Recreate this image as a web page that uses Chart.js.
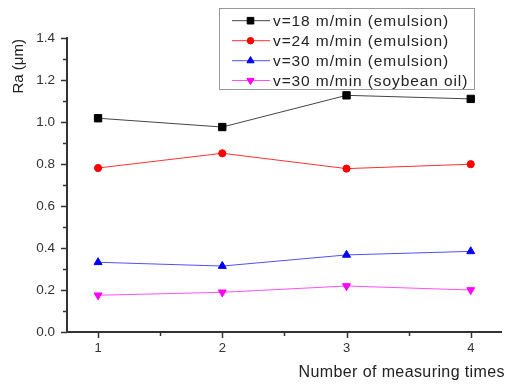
<!DOCTYPE html>
<html><head><meta charset="utf-8">
<script src="https://cdn.jsdelivr.net/npm/chart.js@4/dist/chart.umd.min.js"></script>
<style>html,body{margin:0;padding:0;background:#fff}canvas{display:block}</style>
</head><body>
<canvas id="c" width="508" height="385"></canvas>
<script>
const measuringTimes = [1, 2, 3, 4];
const v18Emulsion = [1.018, 0.976, 1.127, 1.110];
const v24Emulsion = [0.781, 0.851, 0.778, 0.799];
const v30Emulsion = [0.332, 0.314, 0.367, 0.384];
const v30Soybean = [0.175, 0.189, 0.219, 0.200];
const seriesLabels = ['v=18 m/min (emulsion)', 'v=24 m/min (emulsion)', 'v=30 m/min (emulsion)', 'v=30 m/min (soybean oil)'];
const yTickValues = [0, 0.2, 0.4, 0.6, 0.8, 1.0, 1.2, 1.4];
const xTitle = 'Number of measuring times';
const yTitle = 'Ra (\u03bcm)';

const FONT = '"Liberation Sans", Arial, sans-serif';
function pts(arr){ return arr.map((v,i)=>({x: measuringTimes[i], y: v})); }

const styles = [
  {line:'#444444', fill:'#000000', style:'rect', r:5.2, rot:0},
  {line:'#ff3030', fill:'#ff0000', style:'circle', r:3.6, rot:0},
  {line:'#5050ff', fill:'#0000ff', style:'triangle', r:4.6, rot:0},
  {line:'#ff50ff', fill:'#ff00ff', style:'triangle', r:4.6, rot:180}
];
const seriesData = [v18Emulsion, v24Emulsion, v30Emulsion, v30Soybean];

const datasets = seriesData.map((d,i)=>({
  label: seriesLabels[i],
  data: pts(d),
  borderColor: styles[i].line,
  backgroundColor: styles[i].fill,
  pointBackgroundColor: styles[i].fill,
  pointBorderColor: styles[i].fill,
  pointStyle: styles[i].style,
  pointRadius: styles[i].r,
  pointRotation: styles[i].rot,
  pointBorderWidth: 1,
  borderWidth: 1,
  tension: 0
}));

const decor = {
  id: 'decor',
  afterDraw(chart){
    const ctx = chart.ctx;
    const xs = chart.scales.x, ys = chart.scales.y;
    const ca = chart.chartArea;
    ctx.save();
    ctx.strokeStyle = '#333';
    ctx.lineWidth = 1.5;
    // y ticks
    for (let k = 0; k <= 14; k++) {
      const v = k / 10;
      const py = Math.round(ys.getPixelForValue(v)) + 0.5;
      const len = (k % 2 === 0) ? 5 : 3;
      ctx.beginPath(); ctx.moveTo(ca.left - len - 1, py); ctx.lineTo(ca.left, py); ctx.stroke();
    }
    // x ticks
    [1, 1.5, 2, 2.5, 3, 3.5, 4].forEach(v => {
      const px = Math.round(xs.getPixelForValue(v)) + 0.5;
      const len = Number.isInteger(v) ? 5 : 3;
      ctx.beginPath(); ctx.moveTo(px, ca.bottom); ctx.lineTo(px, ca.bottom + len + 1); ctx.stroke();
    });
    // axis titles
    ctx.fillStyle = '#222';
    ctx.font = '16px ' + FONT;
    ctx.letterSpacing = '0.4px';
    ctx.textAlign = 'right'; ctx.textBaseline = 'middle';
    ctx.fillText(xTitle, 505, 373);
    ctx.letterSpacing = '0px';
    ctx.save();
    ctx.translate(19, 39);
    ctx.rotate(-Math.PI/2);
    ctx.textAlign = 'right'; ctx.textBaseline = 'middle';
    ctx.font = '15px ' + FONT;
    ctx.fillText(yTitle, 0, 0);
    ctx.restore();
    // legend
    const bx = 219.5, by = 8.5, bw = 255, bh = 81;
    ctx.fillStyle = '#fff';
    ctx.fillRect(bx, by, bw, bh);
    ctx.strokeStyle = '#999'; ctx.lineWidth = 1;
    ctx.strokeRect(bx, by, bw, bh);
    const rows = [20.7, 40.7, 60.7, 80.5];
    chart.data.datasets.forEach((ds, i) => {
      const y = rows[i];
      ctx.strokeStyle = ds.borderColor; ctx.lineWidth = 1;
      ctx.beginPath(); ctx.moveTo(232, y); ctx.lineTo(270, y); ctx.stroke();
      ctx.fillStyle = ds.pointBackgroundColor; ctx.strokeStyle = ds.pointBorderColor;
      Chart.helpers.drawPoint(ctx, {pointStyle: ds.pointStyle, radius: ds.pointRadius * 0.9, rotation: ds.pointRotation, borderWidth: 1}, 250.5, y);
      ctx.fillStyle = '#222';
      ctx.font = '15.5px ' + FONT;
      ctx.letterSpacing = '0.9px';
      ctx.textAlign = 'left'; ctx.textBaseline = 'middle';
      ctx.fillText(ds.label, 273, y + 1);
      ctx.letterSpacing = '0px';
    });
    ctx.restore();
  }
};

new Chart(document.getElementById('c'), {
  type: 'line',
  data: { datasets },
  options: {
    responsive: false,
    animation: false,
    devicePixelRatio: 1,
    layout: { padding: { top: 38, right: 6, left: 0, bottom: 0 } },
    plugins: { legend: { display: false }, tooltip: { enabled: false } },
    scales: {
      x: {
        type: 'linear', min: 0.75, max: 4.25,
        afterBuildTicks: s => { s.ticks = measuringTimes.map(v => ({ value: v })); },
        afterFit: s => { s.height = 53; },
        grid: { display: false, drawTicks: false },
        border: { display: true, color: '#333', width: 2 },
        ticks: { color: '#333', font: { family: FONT, size: 13 }, padding: 9, callback: v => String(v) }
      },
      y: {
        type: 'linear', min: 0, max: 1.4,
        afterBuildTicks: s => { s.ticks = yTickValues.map(v => ({ value: v })); },
        afterFit: s => { s.width = 67; },
        grid: { display: false, drawTicks: false },
        border: { display: true, color: '#333', width: 2 },
        ticks: { color: '#333', font: { family: FONT, size: 13.5 }, padding: 12, callback: v => v.toFixed(1) }
      }
    }
  },
  plugins: [decor]
});
</script>
</body></html>
